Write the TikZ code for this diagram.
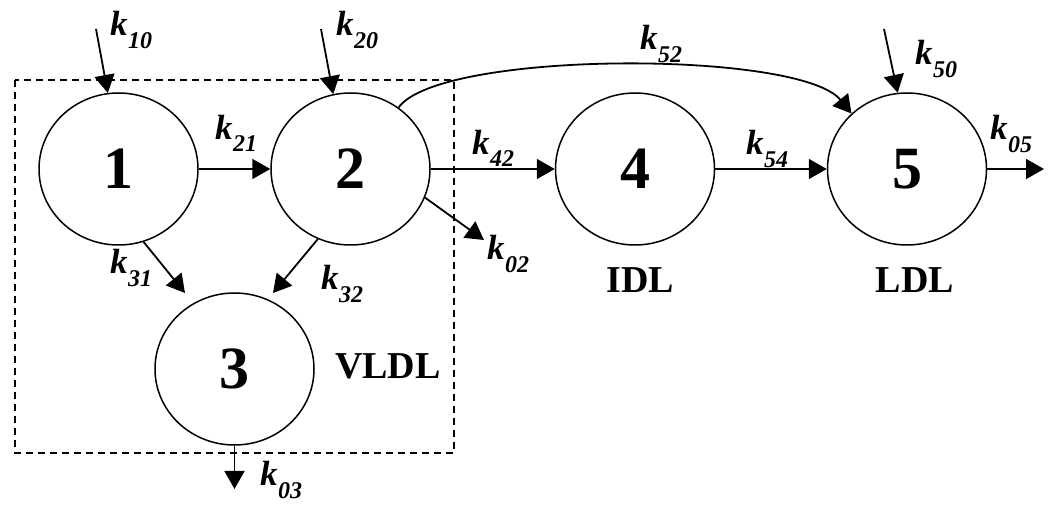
\documentclass[tikz,border=0pt]{standalone}
\usepackage{fontspec}
\setmainfont{Liberation Serif}
\usetikzlibrary{arrows.meta, shapes.geometric, positioning, calc}
\newcommand{\rate}[1]{{\bfseries\itshape k\kern0.5pt\raisebox{-0.35em}{\fontsize{24}{24}\selectfont #1}}}

\begin{document}
\begin{tikzpicture}[x=1pt, y=-1pt,
    comp/.style={ellipse, draw, line width=1.5pt, minimum width=159pt, minimum height=152pt, inner sep=0pt, font=\fontsize{60}{60}\selectfont\bfseries},
    flow/.style={line width=1.8pt, -{Triangle[length=18pt, width=20pt]}},
    ratelbl/.style={inner sep=0pt, font=\fontsize{35}{35}\selectfont},
    tag/.style={inner sep=0pt, font=\fontsize{38}{38}\selectfont\bfseries}]
        \useasboundingbox (0,0) rectangle (1050,510);

        \draw[line width=1.2pt, dash pattern=on 7pt off 5pt] (15,80) rectangle (454,453);

        \node[comp] (c1) at (118.5,169) {1};
        \node[comp] (c2) at (350.5,169) {2};
        \node[comp] (c3) at (234.5,369) {3};
        \node[comp] (c4) at (635,169) {4};
        \node[comp] (c5) at (907,169) {5};

        \node[tag] (vldl) at (388,366) {VLDL};
        \node[tag] (idl) at (640,280) {IDL};
        \node[tag] (ldl) at (915,280) {LDL};

        \coordinate (in1) at (96,29);
        \coordinate (in2) at (321,29);
        \coordinate (in5) at (884,29);
        \coordinate (t31) at (185,293);
        \coordinate (t32) at (273,293);
        \coordinate (out2) at (484,240);
        \coordinate (out3) at (234.5,489);
        \coordinate (out5) at (1044,169);

        \draw[flow] (in1) -- (c1.98);
        \draw[flow] (in2) -- (c2.103);
        \draw[flow] (in5) -- (c5.97);
        \draw[flow] (c1.east) -- (c2.west);
        \draw[flow] (c2.east) -- (c4.west);
        \draw[flow] (c4.east) -- (c5.west);
        \draw[flow] (c1.-71) -- (t31);
        \draw[flow] (c2.-115) -- (t32);
        \draw[flow] (c2.-21) -- (out2);
        \draw[flow] (c3.south) -- (out3);
        \draw[flow] (c5.east) -- (out5);
        \draw[flow] (c2.52) .. controls (440,50) and (800,50) .. (c5.135);

        \node[ratelbl] (k10) at (131,30) {\rate{10}};
        \node[ratelbl] (k20) at (357,30) {\rate{20}};
        \node[ratelbl] (k21) at (236,133) {\rate{21}};
        \node[ratelbl] (k31) at (131,268) {\rate{31}};
        \node[ratelbl] (k32) at (342,284) {\rate{32}};
        \node[ratelbl] (k03) at (281,480) {\rate{03}};
        \node[ratelbl] (k42) at (493,148) {\rate{42}};
        \node[ratelbl] (k02) at (508,254) {\rate{02}};
        \node[ratelbl] (k52) at (661,44) {\rate{52}};
        \node[ratelbl] (k50) at (936,59) {\rate{50}};
        \node[ratelbl] (k54) at (767,149) {\rate{54}};
        \node[ratelbl] (k05) at (1011,134) {\rate{05}};
      \end{tikzpicture}
\end{document}
